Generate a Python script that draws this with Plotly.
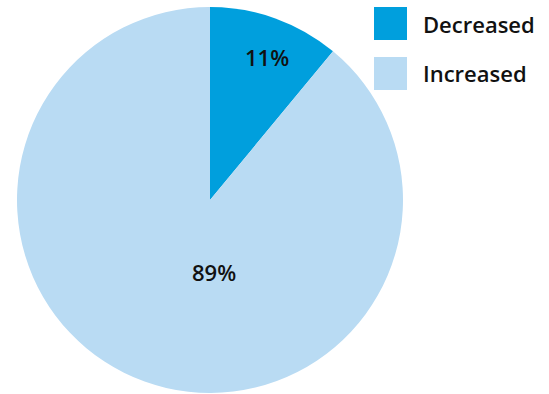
import plotly.graph_objects as go

categories = ["Decreased", "Increased"]
values = [11, 89]
colors = ["#009FDD", "#B9DBF3"]

W, H = 549, 394
cx, cy, r = 210, 200, 193
# label centres (pixel positions, layout only)
label_pos = [(267, 57), (214, 272)]

fig = go.Figure()
fig.add_trace(go.Pie(
    labels=categories,
    values=values,
    sort=False,
    direction="clockwise",
    rotation=0,
    marker=dict(colors=colors, line=dict(width=0)),
    textinfo="none",
    showlegend=False,
    hoverinfo="label+percent",
    domain=dict(x=[(cx - r) / W, (cx + r) / W], y=[(H - cy - r) / H, (H - cy + r) / H]),
))

total = sum(values)
for v, (px, py) in zip(values, label_pos):
    fig.add_annotation(xref="paper", yref="paper", x=px / W, y=1 - py / H,
                       xanchor="center", yanchor="middle", showarrow=False,
                       text=f"{round(100 * v / total)}%",
                       font=dict(family="Open Sans", size=22, color="#111111", weight=600))

# Legend drawn as square swatches with labels
sw = 33
leg_x0 = 374
leg_y0 = [7, 57]
for cat, col, y0 in zip(categories, colors, leg_y0):
    fig.add_shape(type="rect", xref="paper", yref="paper",
                  x0=leg_x0 / W, x1=(leg_x0 + sw) / W,
                  y0=1 - (y0 + sw) / H, y1=1 - y0 / H,
                  fillcolor=col, line=dict(width=0))
    fig.add_annotation(xref="paper", yref="paper",
                       x=(leg_x0 + 47) / W, y=1 - (y0 + sw / 2) / H,
                       xanchor="left", yanchor="middle", showarrow=False,
                       text=cat,
                       font=dict(family="Open Sans", size=22, color="#111111", weight=600))

fig.update_layout(
    width=W, height=H,
    margin=dict(l=0, r=0, t=0, b=0),
    paper_bgcolor="white", plot_bgcolor="white",
)

fig.write_html("out.html", config={"displayModeBar": False},
               post_script="document.body.style.margin='0px';")
